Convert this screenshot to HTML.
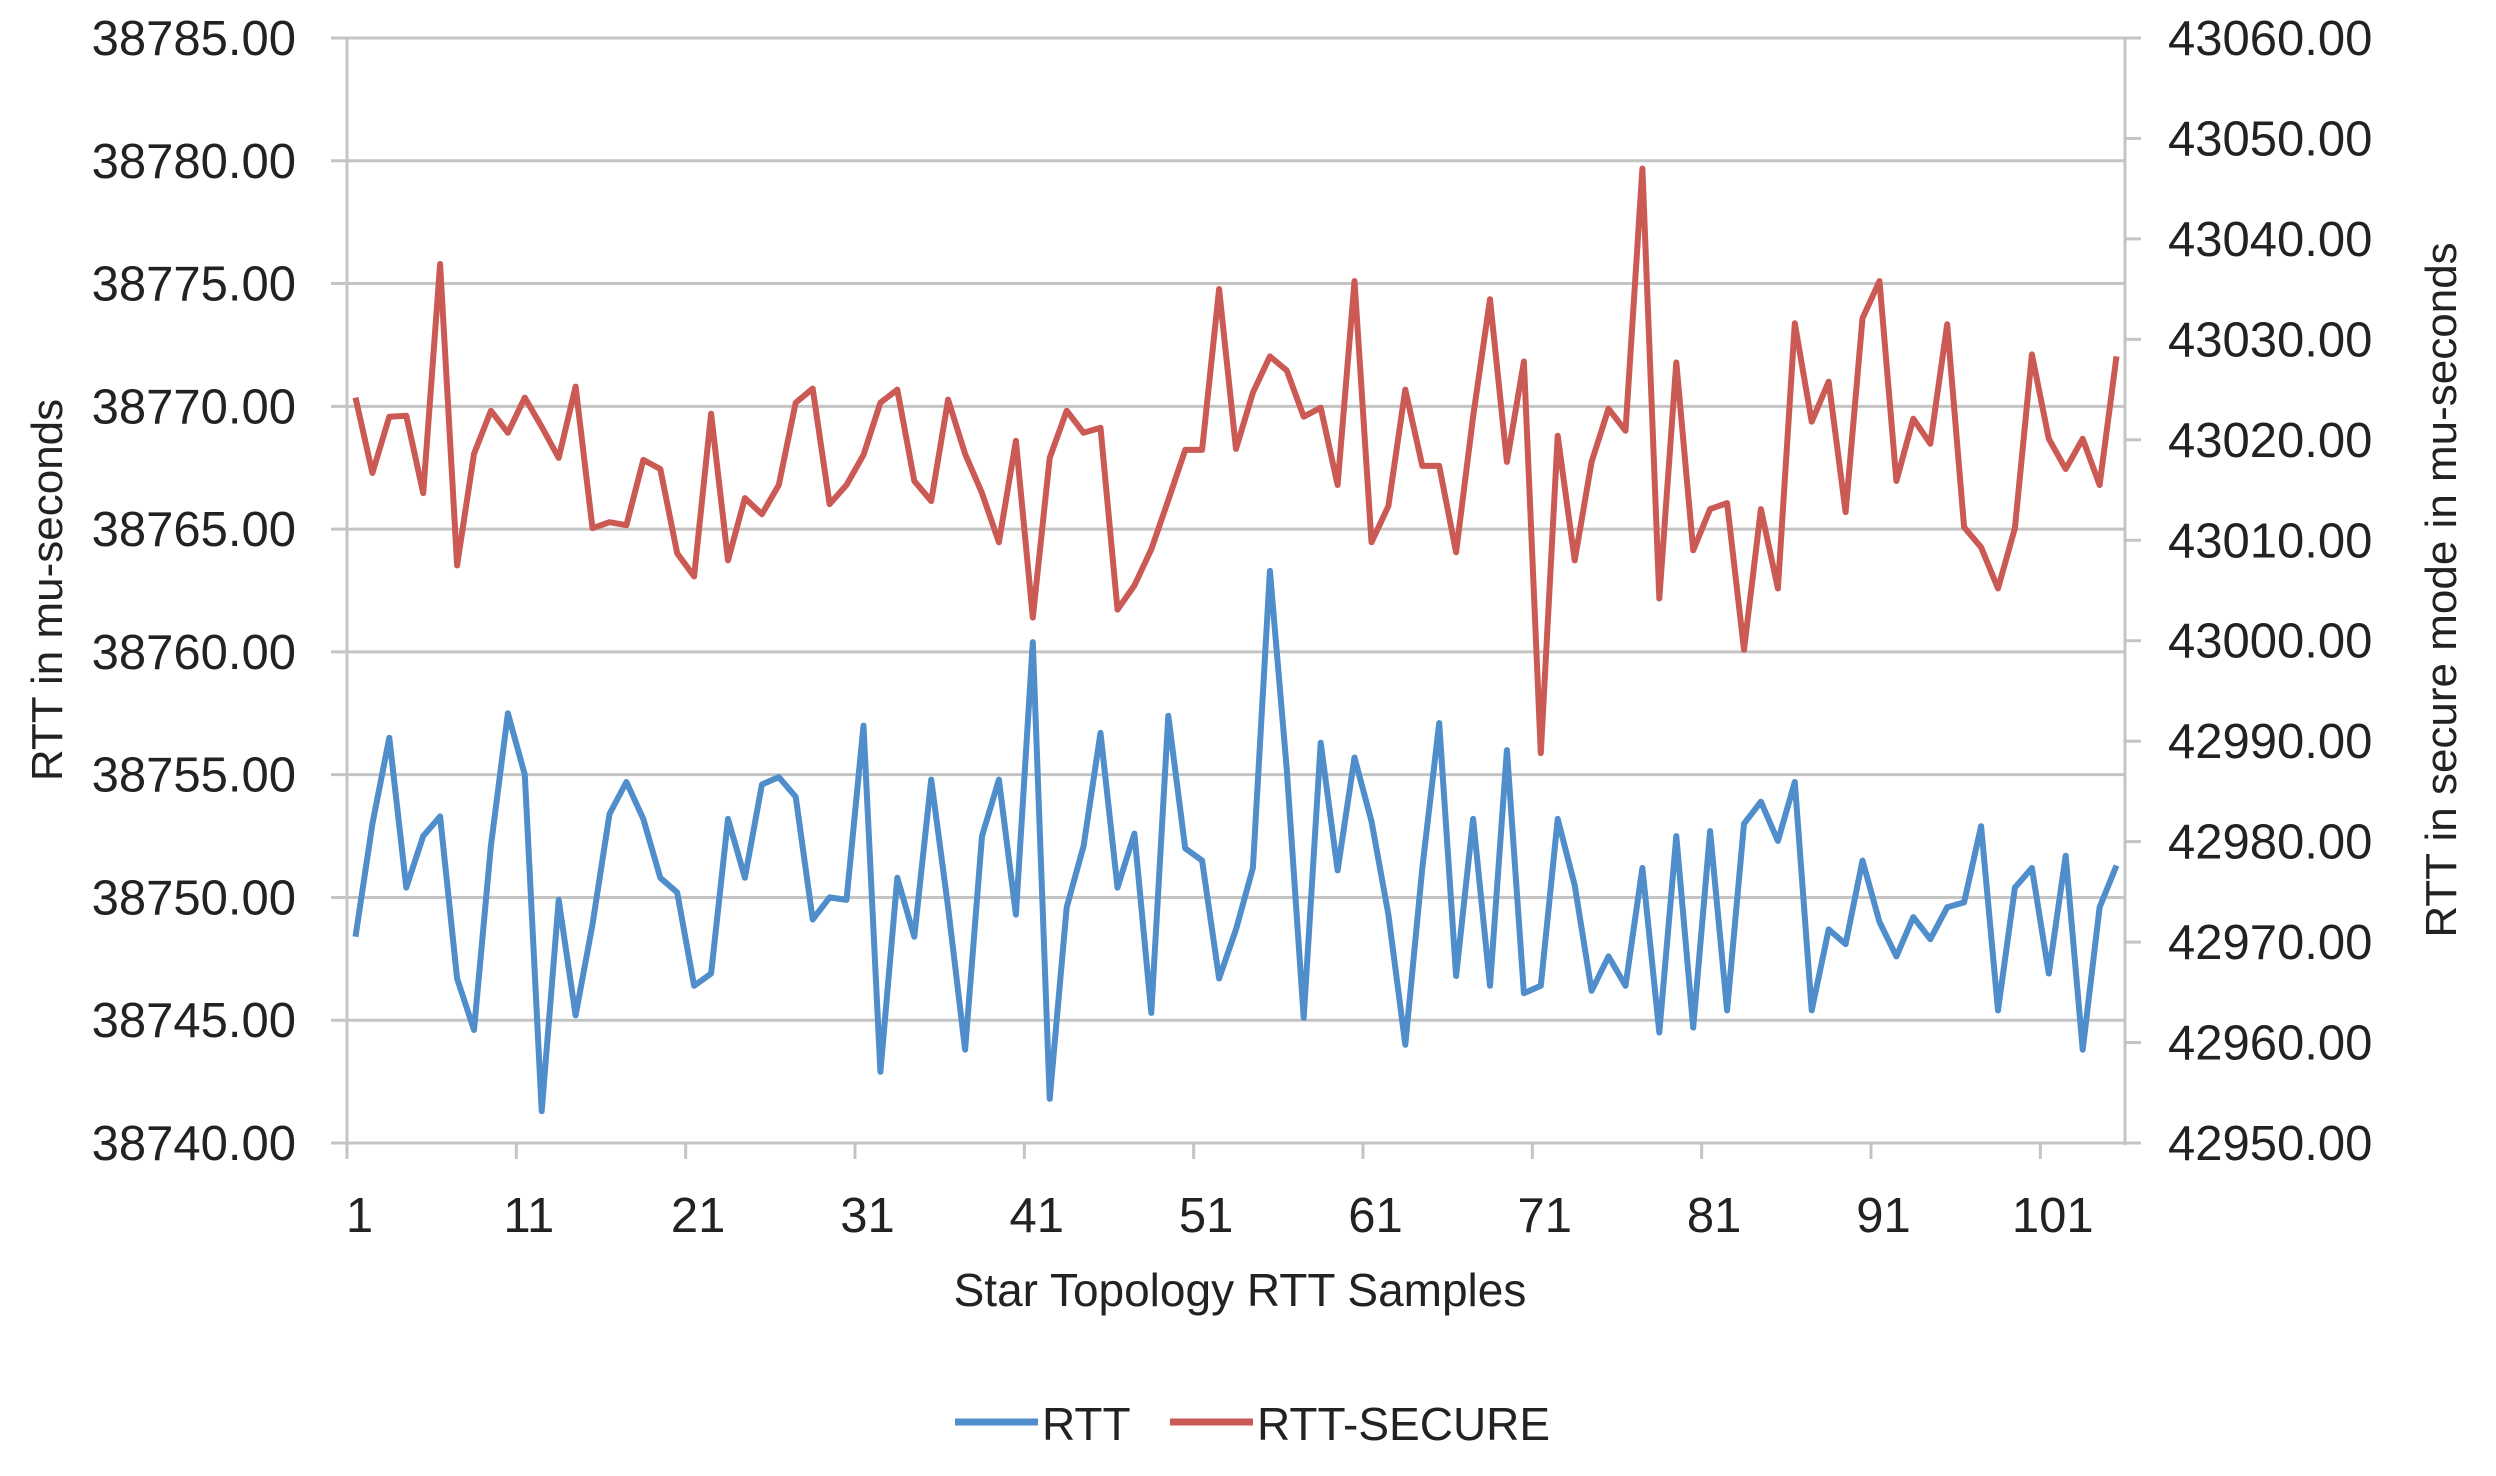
<!DOCTYPE html>
<html><head><meta charset="utf-8"><style>
html,body{margin:0;padding:0;background:#fff;}
svg{display:block;font-family:"Liberation Sans",Arial,sans-serif;}
</style></head><body>
<svg id="chart" width="2496" height="1476" viewBox="0 0 2496 1476" xmlns="http://www.w3.org/2000/svg">
<g id="grid"></g>
<g id="axes"></g>
<g id="series"></g>
<text x="1240" y="1306" font-size="46" text-anchor="middle" fill="#222">Star Topology RTT Samples</text>
<text transform="translate(62,590) rotate(-90)" font-size="44" text-anchor="middle" fill="#222">RTT in mu-seconds</text>
<text transform="translate(2456,590) rotate(-90)" font-size="44" text-anchor="middle" fill="#222">RTT in secure mode in mu-seconds</text>
<g>
<g><line x1="955" y1="1422" x2="1038" y2="1422" stroke="#4f8dcb" stroke-width="7"/><text x="1042" y="1440" font-size="46" fill="#222">RTT</text></g>
<g><line x1="1170" y1="1422" x2="1253" y2="1422" stroke="#cb5a55" stroke-width="7"/><text x="1257" y="1440" font-size="46" fill="#222">RTT-SECURE</text></g>
</g>
</svg>
<script>
const rttValues=[38748.4,38753.0,38756.5,38750.4,38752.5,38753.3,38746.7,38744.6,38752.1,38757.5,38755.0,38741.3,38749.9,38745.2,38748.9,38753.4,38754.7,38753.2,38750.8,38750.2,38746.4,38746.9,38753.2,38750.8,38754.6,38754.9,38754.1,38749.1,38750.0,38749.9,38757.0,38742.9,38750.8,38748.4,38754.8,38749.6,38743.8,38752.5,38754.8,38749.3,38760.4,38741.8,38749.6,38752.1,38756.7,38750.4,38752.6,38745.3,38757.4,38752.0,38751.5,38746.7,38748.7,38751.2,38763.3,38755.2,38745.1,38756.3,38751.1,38755.7,38753.1,38749.3,38744.0,38751.2,38757.1,38746.8,38753.2,38746.4,38756.0,38746.1,38746.4,38753.2,38750.5,38746.2,38747.6,38746.4,38751.2,38744.5,38752.5,38744.7,38752.7,38745.4,38753.0,38753.9,38752.3,38754.7,38745.4,38748.7,38748.1,38751.5,38749.0,38747.6,38749.2,38748.3,38749.6,38749.8,38752.9,38745.4,38750.4,38751.2,38746.9,38751.7,38743.8,38749.6,38751.3];
const secureValues=[43024.2,43016.7,43022.3,43022.4,43014.7,43037.5,43007.5,43018.6,43022.9,43020.7,43024.2,43021.3,43018.2,43025.3,43011.2,43011.8,43011.5,43018.0,43017.1,43008.7,43006.4,43022.6,43008.0,43014.2,43012.6,43015.5,43023.7,43025.1,43013.6,43015.5,43018.5,43023.7,43025.0,43015.9,43013.9,43024.0,43018.6,43014.7,43009.8,43019.9,43002.3,43018.2,43022.9,43020.7,43021.2,43003.1,43005.5,43009.1,43014.0,43019.0,43019.0,43035.0,43019.1,43024.7,43028.3,43026.9,43022.3,43023.2,43015.5,43035.8,43009.8,43013.4,43025.0,43017.4,43017.4,43008.8,43022.3,43034.0,43017.8,43027.8,42988.8,43020.4,43008.0,43017.8,43023.1,43020.9,43047.0,43004.2,43027.7,43009.0,43013.1,43013.7,42999.1,43013.1,43005.2,43031.6,43021.8,43025.8,43012.8,43032.1,43035.8,43015.9,43022.1,43019.6,43031.5,43011.3,43009.3,43005.2,43011.2,43028.5,43020.1,43017.1,43020.1,43015.5,43028.3];
const leftTicks=[38740,38745,38750,38755,38760,38765,38770,38775,38780,38785];
const rightTicks=[42950,42960,42970,42980,42990,43000,43010,43020,43030,43040,43050,43060];
const xTickLabels=[1,11,21,31,41,51,61,71,81,91,101];

const NS="http://www.w3.org/2000/svg";
const L=347,R=2125,T=38,B=1143;
const N=rttValues.length;
const cw=(R-L)/N;
const xPos=i=>L+(i+0.5)*cw;
const yL=v=>B-(v-38740)/(38785-38740)*(B-T);
const yR=v=>B-(v-42950)/(43060-42950)*(B-T);
function mk(tag,attrs,parent){const e=document.createElementNS(NS,tag);for(const k in attrs)e.setAttribute(k,attrs[k]);parent.appendChild(e);return e;}
const grid=document.getElementById('grid'),axes=document.getElementById('axes'),series=document.getElementById('series');
leftTicks.forEach(v=>{
  const y=yL(v);
  const g=mk('line',{x1:L-16,x2:R,y1:y,y2:y,stroke:'#c4c4c4','stroke-width':3},grid);
  
  
  const t=mk('text',{x:296,y:y+17,'font-size':49,'text-anchor':'end',fill:'#222'},axes);
  t.textContent=v.toFixed(2);
  
  
});
rightTicks.forEach(v=>{
  const y=yR(v);
  const k=mk('line',{x1:R,x2:R+16,y1:y,y2:y,stroke:'#c4c4c4','stroke-width':3},axes);
  
  
  const t=mk('text',{x:2168,y:y+17,'font-size':49,fill:'#222'},axes);
  t.textContent=v.toFixed(2);
  
  
});
const al=mk('line',{x1:L,x2:L,y1:T,y2:B+2,stroke:'#c4c4c4','stroke-width':3},axes);


const ar=mk('line',{x1:R,x2:R,y1:T,y2:B+2,stroke:'#c4c4c4','stroke-width':3},axes);


xTickLabels.forEach(c=>{
  const i=c-1;
  const xb=L+i*cw;
  const k=mk('line',{x1:xb,x2:xb,y1:B,y2:B+16,stroke:'#c4c4c4','stroke-width':3},axes);
  
  
  const t=mk('text',{x:xPos(i)+4,y:1232,'font-size':49,'text-anchor':'middle',fill:'#222'},axes);
  t.textContent=String(c);
  
  
});
const p1=mk('polyline',{points:rttValues.map((v,i)=>xPos(i).toFixed(1)+','+yL(v).toFixed(1)).join(' '),fill:'none',stroke:'#4f8dcb','stroke-width':6,'stroke-linejoin':'round'},series);


const p2=mk('polyline',{points:secureValues.map((v,i)=>xPos(i).toFixed(1)+','+yR(v).toFixed(1)).join(' '),fill:'none',stroke:'#cb5a55','stroke-width':6,'stroke-linejoin':'round'},series);


</script>
</body></html>
